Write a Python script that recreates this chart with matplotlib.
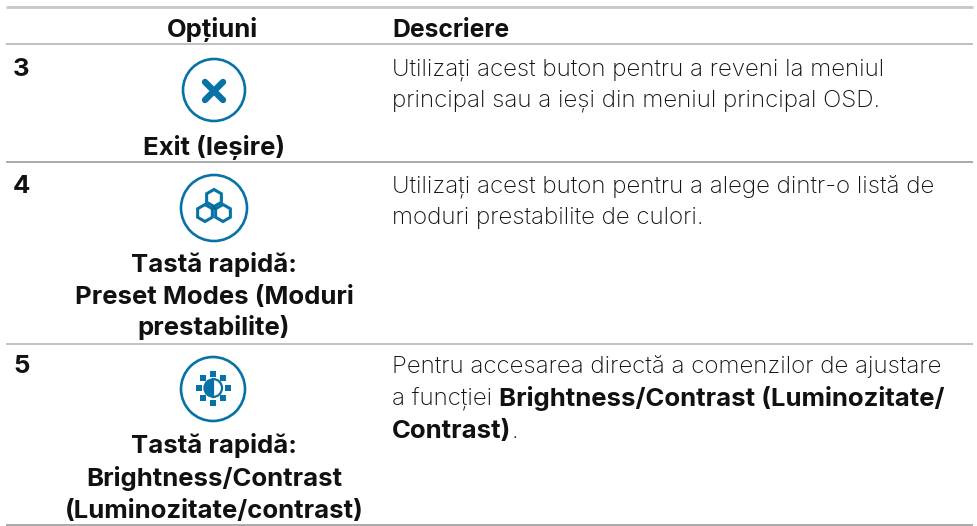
import numpy as np
import matplotlib
matplotlib.use('Agg')
import matplotlib.pyplot as plt
from matplotlib.patches import Circle, Rectangle, RegularPolygon, Wedge

# continutul tabelului (y = linia de baza a textului)
header_options = 'Opțiuni'
header_desc = 'Descriere'
row_numbers = ['3', '4', '5']
row_number_y = [76, 193, 373]
option_labels = [['Exit (Ieșire)'],
                 ['Tastă rapidă:', 'Preset Modes (Moduri', 'prestabilite)'],
                 ['Tastă rapidă:', 'Brightness/Contrast', '(Luminozitate/contrast)']]
option_label_y = [[155], [272, 304, 335], [453, 486, 518]]
desc_lines = [[('Utilizați acest buton pentru a reveni la meniul', False)],
              [('principal sau a ieși din meniul principal OSD.', False)],
              [('Utilizați acest buton pentru a alege dintr-o listă de', False)],
              [('moduri prestabilite de culori.', False)],
              [('Pentru accesarea directă a comenzilor de ajustare', False)],
              [('a funcției ', False), ('Brightness/Contrast (Luminozitate/', True)],
              [('Contrast)', True), ('.', False)]]
desc_y = [76, 107, 193, 224, 373, 406, 438]
rule_y = [7, 44, 162, 344, 525]
rule_w = [2.0, 1.2, 1.2, 1.2, 1.2]
rule_c = ['#c8c8c8', '#b4b4b4', '#9c9c9c', '#b8b8b8', '#9c9c9c']
icon_x = [214, 214, 213]
icon_y = [90, 208, 389]
icon_r = [31, 33, 32]

BLUE = '#0672a6'
INK = '#111111'
FONT = 'Inter'
BOLD = 18.5
HEAD = 17.8
BODY = 17.4

fig = plt.figure(figsize=(9.78, 5.26), dpi=100)
ax = fig.add_axes([0, 0, 1, 1])
ax.set_xlim(0, 978)
ax.set_ylim(526, 0)
ax.axis('off')

for y, w, c in zip(rule_y, rule_w, rule_c):
    ax.plot([6, 973], [y, y], color=c, lw=w, solid_capstyle='butt')

ax.text(212, 37, header_options, ha='center', va='baseline', fontsize=BOLD, fontweight='bold', family=FONT, color=INK)
ax.text(392, 37, header_desc, ha='left', va='baseline', fontsize=HEAD, fontweight='bold', family=FONT, color=INK)

for n, y in zip(row_numbers, row_number_y):
    ax.text(13, y, n, ha='left', va='baseline', fontsize=BOLD, fontweight='bold', family=FONT, color=INK)

for labels, ys in zip(option_labels, option_label_y):
    for s, y in zip(labels, ys):
        ax.text(214, y, s, ha='center', va='baseline', fontsize=BOLD, fontweight='bold', family=FONT, color=INK)

# randuri cu text normal si bold pe aceeasi linie
rend = fig.canvas.get_renderer()
inv = ax.transData.inverted()
for parts, y in zip(desc_lines, desc_y):
    x = 392
    for s, bold in parts:
        t = ax.text(x, y, s, ha='left', va='baseline', fontsize=BOLD if bold else BODY, family=FONT, color=INK,
                    fontweight='bold' if bold else 'light')
        bb = t.get_window_extent(rend)
        x = inv.transform((bb.x1, 0))[0]

# icone
for x, y, r in zip(icon_x, icon_y, icon_r):
    ax.add_patch(Circle((x, y), r, fc='white', ec=BLUE, lw=1.9))

# X
cx, cy = icon_x[0], icon_y[0]
ax.plot([cx - 9, cx + 9], [cy - 8, cy + 10], color=BLUE, lw=4.6, solid_capstyle='round')
ax.plot([cx - 9, cx + 9], [cy + 10, cy - 8], color=BLUE, lw=4.6, solid_capstyle='round')

# trei hexagoane
cx, cy = icon_x[1], icon_y[1]
for dx, dy in [(0, -10), (-9, 5), (9, 5)]:
    ax.add_patch(RegularPolygon((cx + dx, cy + dy), 6, radius=8.5, fc='none', ec=BLUE, lw=2.2))
ax.add_patch(RegularPolygon((cx, cy), 3, radius=3, orientation=np.pi / 3, fc='#0a5f88', ec='none'))

# soare
cx, cy = icon_x[2], icon_y[2] - 1
ax.add_patch(Wedge((cx, cy), 9, 90, 270, fc=BLUE, ec=BLUE, lw=1))
ax.add_patch(Wedge((cx, cy), 9, -90, 90, fc='white', ec=BLUE, lw=1.6))
for a in np.arange(0, 360, 45):
    px = cx + 14.5 * np.cos(np.radians(a))
    py = cy + 14.5 * np.sin(np.radians(a))
    ax.add_patch(Rectangle((px - 3, py - 3), 6, 6, fc=BLUE, ec='none'))

fig.savefig('out.png', dpi=100, facecolor='white')
